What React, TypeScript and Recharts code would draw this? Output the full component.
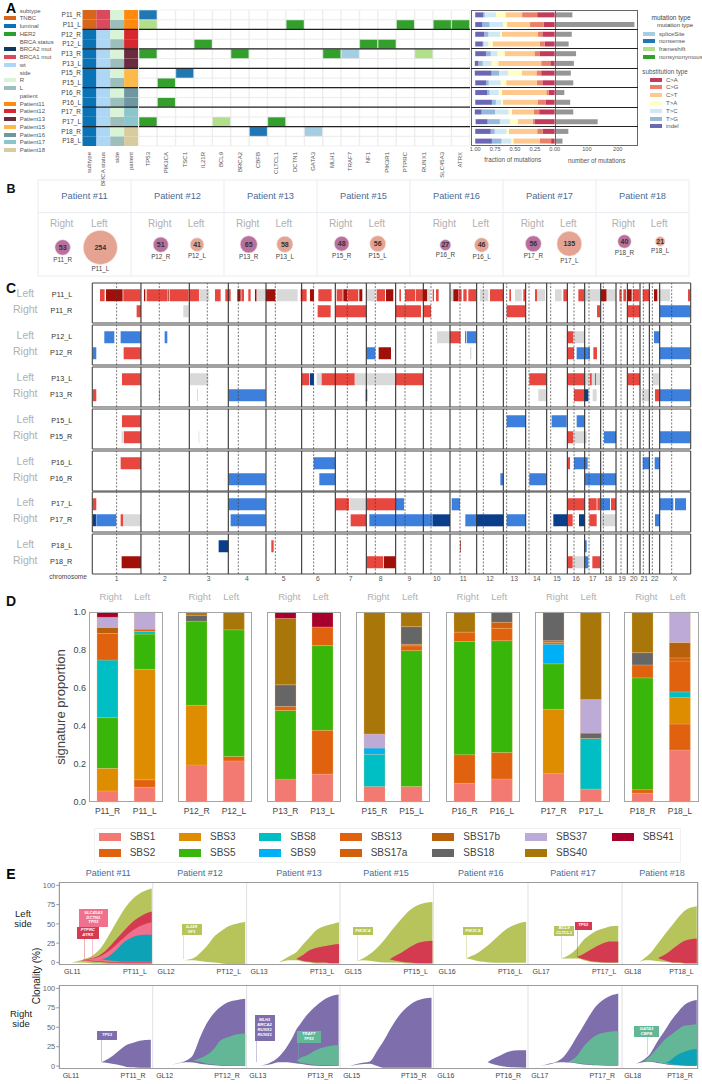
import React from 'react';
import {
  Area, AreaChart, Bar, BarChart, Cell, LabelList, ReferenceLine, Scatter, ScatterChart,
  XAxis, YAxis, ZAxis,
} from 'recharts';

const FONT = '"Liberation Sans", Arial, sans-serif';
const BLUE_TITLE = '#4c6b97';
const GRAY_TEXT = '#b0b0b0';

const samples = ['P11_R', 'P11_L', 'P12_R', 'P12_L', 'P13_R', 'P13_L', 'P15_R', 'P15_L', 'P16_R', 'P16_L', 'P17_R', 'P17_L', 'P18_R', 'P18_L'];
const patients = ['Patient #11', 'Patient #12', 'Patient #13', 'Patient #15', 'Patient #16', 'Patient #17', 'Patient #18'];

// ---- panel A ----
const genes = ['TP53', 'PIK3CA', 'TSC1', 'IL21R', 'BCL9', 'BRCA2', 'CBFB', 'CLTCL1', 'DCTN1', 'GATA3', 'MLH1', 'TRAF7', 'NF1', 'PIK3R1', 'PTPRC', 'RUNX1', 'SLC45A3', 'ATRX'];
const mutationCalls = [
  ['P11_R', 'TP53', 'nonsense'], ['P11_L', 'TP53', 'frameshift'], ['P11_L', 'DCTN1', 'nonsynonymous'], ['P11_L', 'PTPRC', 'nonsynonymous'],
  ['P11_L', 'SLC45A3', 'nonsynonymous'], ['P11_L', 'ATRX', 'nonsynonymous'], ['P12_L', 'IL21R', 'nonsynonymous'], ['P12_L', 'NF1', 'nonsynonymous'],
  ['P12_L', 'PIK3R1', 'nonsynonymous'], ['P13_R', 'TP53', 'nonsynonymous'], ['P13_R', 'BRCA2', 'nonsynonymous'], ['P13_R', 'MLH1', 'nonsynonymous'],
  ['P13_R', 'TRAF7', 'spliceSite'], ['P13_R', 'RUNX1', 'frameshift'], ['P15_R', 'TSC1', 'nonsense'], ['P15_L', 'PIK3CA', 'nonsynonymous'],
  ['P16_L', 'PIK3CA', 'nonsynonymous'], ['P17_L', 'TP53', 'nonsynonymous'], ['P17_L', 'BCL9', 'frameshift'], ['P17_L', 'CLTCL1', 'nonsynonymous'],
  ['P18_R', 'CBFB', 'nonsense'], ['P18_R', 'GATA3', 'spliceSite'],
];
const mutationColors: Record<string, string> = { spliceSite: '#a6cee3', nonsense: '#1f78b4', frameshift: '#b2df8a', nonsynonymous: '#33a02c' };

const annotationCols = ['subtype', 'BRCA status', 'side', 'patient'];
const subtypeByRow = ['TNBC', 'TNBC', 'luminal', 'luminal', 'luminal', 'luminal', 'luminal', 'luminal', 'luminal', 'luminal', 'luminal', 'luminal', 'luminal', 'luminal'];
const brcaByRow = ['BRCA1 mut', 'BRCA1 mut', 'wt', 'wt', 'wt', 'wt', 'wt', 'wt', 'wt', 'wt', 'wt', 'wt', 'wt', 'wt'];
const sideByRow = ['R', 'L', 'R', 'L', 'R', 'L', 'R', 'L', 'R', 'L', 'R', 'L', 'R', 'L'];
const patientByRow = ['Patient11', 'Patient11', 'Patient12', 'Patient12', 'Patient13', 'Patient13', 'Patient15', 'Patient15', 'Patient16', 'Patient16', 'Patient17', 'Patient17', 'Patient18', 'Patient18'];
const annotationColors: Record<string, string> = {
  TNBC: '#d8661a', luminal: '#0b72b5', HER2: '#2ca02c', 'BRCA2 mut': '#0e3a5e', 'BRCA1 mut': '#d84a5c', wt: '#aed6f5', R: '#d8f3d5', L: '#9dbfbb',
  Patient11: '#ff8a10', Patient12: '#d7282f', Patient13: '#6b2a3e', Patient15: '#fdba4b', Patient16: '#6e97a2', Patient17: '#8cc5cb', Patient18: '#d8cc9e',
};
const annotationLegend: [string, boolean][] = [
  ['subtype', true], ['TNBC', false], ['luminal', false], ['HER2', false], ['BRCA status', true], ['BRCA2 mut', false], ['BRCA1 mut', false], ['wt', false],
  ['side', true], ['R', false], ['L', false], ['patient', true], ['Patient11', false], ['Patient12', false], ['Patient13', false], ['Patient15', false],
  ['Patient16', false], ['Patient17', false], ['Patient18', false],
];
const annotationLegendY = [10.7, 18.3, 26, 33.7, 41.7, 49.3, 57, 65, 72.7, 80.3, 88, 96, 103.7, 111.3, 119, 127, 134.7, 142, 150];

const subTypes = ['C>A', 'C>G', 'C>T', 'T>A', 'T>C', 'T>G', 'indel'];
const subColors = ['#c23b5b', '#e8806a', '#fdc98f', '#ffffc0', '#cfe8f3', '#95b8dc', '#6a68b5'];
const fracCA = [0.22, 0.14, 0.155, 0.125, 0.185, 0.055, 0.17, 0.155, 0.075, 0.11, 0.195, 0.255, 0.15, 0.045];
const fracCG = [0.19, 0.17, 0.055, 0.065, 0.07, 0.115, 0.06, 0.07, 0.03, 0.105, 0.07, 0.02, 0.07, 0.145];
const fracCT = [0.21, 0.29, 0.455, 0.59, 0.375, 0.54, 0.185, 0.385, 0.56, 0.435, 0.275, 0.19, 0.355, 0.33];
const fracTA = [0.12, 0.05, 0.02, 0.055, 0.09, 0.085, 0.17, 0.07, 0.04, 0.025, 0.04, 0.1, 0.03, 0.025];
const fracTC = [0.14, 0.17, 0.15, 0.06, 0.085, 0.11, 0.115, 0.15, 0.115, 0.065, 0.17, 0.125, 0.15, 0.125];
const fracTG = [0.02, 0.09, 0.05, 0.01, 0.06, 0.055, 0.095, 0.03, 0.03, 0.05, 0.17, 0.155, 0.05, 0.12];
const fracIndel = [0.1, 0.09, 0.115, 0.095, 0.135, 0.045, 0.21, 0.14, 0.15, 0.21, 0.085, 0.15, 0.195, 0.21];
const fracColumns = [fracCA, fracCG, fracCT, fracTA, fracTC, fracTG, fracIndel];
const mutationCounts = [53, 254, 51, 41, 65, 58, 48, 56, 27, 46, 56, 135, 40, 21];

// ---- panel B ----
const bubbleOffset = [0.265, 0.67, 0.32, 0.71, 0.266, 0.654, 0.265, 0.653, 0.38, 0.77, 0.326, 0.713, 0.306, 0.69];
const bubbleLevel = [0.298, 0.298, 0.326, 0.326, 0.33, 0.33, 0.336, 0.336, 0.323, 0.323, 0.336, 0.336, 0.36, 0.36];

// ---- panel C ----
const chromLabels = ['1', '2', '3', '4', '5', '6', '7', '8', '9', '10', '11', '12', '13', '14', '15', '16', '17', '18', '19', '20', '21', '22', 'X'];
const chromTicks = [350, 495, 626, 741, 851, 954, 1052, 1142, 1228, 1310, 1390, 1470, 1543, 1610, 1671, 1728, 1778, 1825, 1866, 1901, 1933, 1964, 2025];
const chromEnds = [423, 568, 685, 798, 905, 1006, 1099, 1187, 1270, 1350, 1430, 1510, 1577, 1640, 1702, 1754, 1802, 1848, 1882, 1920, 1948, 1979];
const centromeres = [350, 478, 622, 715, 826, 941, 1042, 1126, 1215, 1293, 1380, 1450, 1520, 1587, 1652, 1722, 1767, 1810, 1863, 1900, 1930, 1957, 2015];
const cnColors: Record<string, string> = { R: '#e8473f', D: '#a01008', G: '#d9d9d9', B: '#3d7fdc', N: '#0a3d8a' };
type Seg = [number, number, string];

const cnP11L: Seg[] = [[300, 314, 'R'], [318, 368, 'D'], [370, 422, 'R'], [432, 436, 'D'], [440, 503, 'R'], [505, 508, 'D'], [510, 566, 'R'], [568, 597, 'R'], [598, 628, 'G'], [645, 662, 'R'], [676, 692, 'R'], [712, 722, 'D'], [724, 732, 'R'], [745, 752, 'R'], [765, 770, 'D'], [770, 798, 'G'], [798, 826, 'D'], [830, 893, 'G'], [902, 920, 'R'], [930, 942, 'D'], [955, 995, 'R'], [1010, 1028, 'R'], [1030, 1042, 'D'], [1043, 1075, 'R'], [1078, 1087, 'D'], [1100, 1125, 'G'], [1130, 1155, 'R'], [1158, 1180, 'D'], [1198, 1203, 'R'], [1215, 1245, 'R'], [1247, 1270, 'R'], [1270, 1282, 'D'], [1282, 1290, 'G'], [1298, 1302, 'R'], [1308, 1316, 'R'], [1350, 1360, 'G'], [1360, 1375, 'D'], [1375, 1385, 'R'], [1390, 1400, 'R'], [1405, 1430, 'R'], [1440, 1465, 'G'], [1470, 1510, 'R'], [1528, 1533, 'R'], [1545, 1565, 'G'], [1570, 1577, 'R'], [1605, 1612, 'R'], [1612, 1635, 'G'], [1665, 1685, 'G'], [1690, 1702, 'R'], [1735, 1752, 'R'], [1755, 1800, 'G'], [1802, 1820, 'D'], [1820, 1848, 'G'], [1858, 1865, 'R'], [1870, 1878, 'R'], [1882, 1895, 'D'], [1898, 1918, 'R'], [1928, 1948, 'R'], [1962, 1972, 'D'], [1975, 2010, 'G'], [2064, 2072, 'R']];
const cnP11R: Seg[] = [[410, 423, 'R'], [550, 566, 'G'], [953, 992, 'R'], [1007, 1099, 'R'], [1187, 1263, 'R'], [1270, 1293, 'R'], [1520, 1576, 'R'], [1791, 1800, 'R'], [1883, 1920, 'R'], [1980, 2072, 'B']];
const cnP12L: Seg[] = [[313, 343, 'B'], [362, 423, 'B'], [494, 502, 'B'], [1311, 1350, 'G'], [1350, 1382, 'R'], [1395, 1398, 'B'], [1400, 1429, 'B'], [1702, 1720, 'R'], [1720, 1753, 'G'], [1962, 1979, 'B']];
const cnP12R: Seg[] = [[277, 289, 'B'], [371, 423, 'R'], [1099, 1126, 'B'], [1136, 1173, 'D'], [1410, 1414, 'G'], [1702, 1722, 'R'], [1730, 1770, 'B'], [1780, 1791, 'R'], [1980, 2072, 'B']];
const cnP13L: Seg[] = [[366, 423, 'R'], [570, 625, 'G'], [905, 928, 'R'], [930, 942, 'N'], [950, 965, 'G'], [965, 1064, 'R'], [1065, 1185, 'G'], [1187, 1269, 'R'], [1588, 1640, 'R'], [1702, 1755, 'R'], [1755, 1800, 'G'], [1770, 1775, 'R'], [1785, 1788, 'R'], [1883, 1920, 'R'], [1958, 1978, 'G']];
const cnP13R: Seg[] = [[277, 289, 'R'], [477, 479, 'R'], [591, 594, 'G'], [686, 797, 'B'], [1097, 1102, 'B'], [1615, 1638, 'G'], [1722, 1753, 'R'], [1753, 1765, 'N'], [1778, 1790, 'G'], [1925, 1947, 'G'], [1965, 1979, 'R'], [1980, 2072, 'B']];
const cnP15L: Seg[] = [[366, 423, 'R'], [1520, 1577, 'B'], [1655, 1700, 'B'], [1730, 1754, 'B']];
const cnP15R: Seg[] = [[365, 371, 'G'], [372, 423, 'R'], [596, 598, 'G'], [1702, 1720, 'R'], [1720, 1760, 'G'], [1812, 1848, 'B'], [1980, 2072, 'B']];
const cnP16L: Seg[] = [[362, 423, 'R'], [941, 1006, 'B'], [1702, 1710, 'R'], [1722, 1763, 'B'], [1928, 1948, 'B'], [1964, 1979, 'B']];
const cnP16R: Seg[] = [[686, 797, 'B'], [958, 1005, 'B'], [1501, 1510, 'B'], [1588, 1640, 'B'], [1755, 1848, 'B']];
const cnP17L: Seg[] = [[277, 289, 'R'], [686, 797, 'B'], [1007, 1047, 'R'], [1048, 1099, 'G'], [1099, 1186, 'R'], [1187, 1212, 'B'], [1355, 1380, 'B'], [1702, 1754, 'R'], [1766, 1790, 'R'], [1792, 1800, 'R'], [1802, 1830, 'B'], [1833, 1848, 'R'], [1980, 2020, 'B'], [2025, 2058, 'B']];
const cnP17R: Seg[] = [[277, 288, 'N'], [289, 349, 'B'], [362, 370, 'R'], [372, 423, 'G'], [692, 797, 'B'], [1052, 1099, 'R'], [1108, 1298, 'B'], [1298, 1350, 'N'], [1396, 1428, 'B'], [1428, 1510, 'N'], [1520, 1577, 'B'], [1660, 1702, 'N'], [1702, 1718, 'R'], [1737, 1755, 'N'], [1768, 1790, 'R'], [1805, 1848, 'G'], [1965, 1979, 'B']];
const cnP18L: Seg[] = [[656, 685, 'N'], [814, 821, 'R'], [1380, 1382, 'D'], [1753, 1760, 'B']];
const cnP18R: Seg[] = [[365, 423, 'D'], [1099, 1150, 'R'], [1152, 1186, 'D'], [1702, 1718, 'R'], [1720, 1753, 'G'], [1753, 1765, 'B'], [1777, 1802, 'R']];

const cnGroups = [
  { left: 'P11_L', right: 'P11_R', segL: cnP11L, segR: cnP11R, top: 283.3 },
  { left: 'P12_L', right: 'P12_R', segL: cnP12L, segR: cnP12R, top: 325 },
  { left: 'P13_L', right: 'P13_R', segL: cnP13L, segR: cnP13R, top: 367.3 },
  { left: 'P15_L', right: 'P15_R', segL: cnP15L, segR: cnP15R, top: 409 },
  { left: 'P16_L', right: 'P16_R', segL: cnP16L, segR: cnP16R, top: 450.7 },
  { left: 'P17_L', right: 'P17_R', segL: cnP17L, segR: cnP17R, top: 492.3 },
  { left: 'P18_L', right: 'P18_R', segL: cnP18L, segR: cnP18R, top: 534.3 },
];

// ---- panel D ----
const sbsNames = ['SBS1', 'SBS2', 'SBS3', 'SBS5', 'SBS8', 'SBS9', 'SBS13', 'SBS17a', 'SBS17b', 'SBS18', 'SBS37', 'SBS40', 'SBS41'];
const sbsColors = ['#f27a72', '#e0610e', '#de8c00', '#39b60a', '#00bfc4', '#00b0f6', '#e0610e', '#d0600c', '#b9600c', '#666666', '#bdaad7', '#a9760a', '#a8002d'];
const sbs1 = [0.058, 0.077, 0.195, 0.216, 0.119, 0.147, 0.081, 0.081, 0.098, 0.121, 0.149, 0.068, 0.046, 0.274];
const sbs2 = [0, 0.04, 0, 0.023, 0, 0.23, 0, 0, 0.151, 0.139, 0, 0, 0.019, 0.137];
const sbs3 = [0.119, 0.581, 0.314, 0, 0, 0, 0, 0, 0, 0, 0.339, 0, 0, 0.139];
const sbs5 = [0.267, 0.186, 0.442, 0.667, 0.363, 0.446, 0, 0.716, 0.596, 0.589, 0.24, 0, 0.589, 0];
const sbs8 = [0.303, 0.014, 0, 0, 0, 0, 0.17, 0, 0, 0, 0, 0.267, 0, 0.03];
const sbs9 = [0, 0, 0, 0, 0, 0, 0.033, 0, 0, 0, 0.104, 0, 0, 0];
const sbs13 = [0.14, 0.012, 0, 0, 0.021, 0.098, 0, 0.025, 0.049, 0.065, 0.009, 0, 0.068, 0.163];
const sbs17a = [0, 0, 0, 0, 0, 0, 0, 0.008, 0, 0.032, 0.009, 0, 0, 0.016];
const sbs17b = [0.032, 0, 0, 0, 0, 0, 0, 0, 0, 0, 0, 0, 0, 0.081];
const sbs18 = [0, 0, 0.032, 0, 0.114, 0, 0, 0.093, 0, 0.054, 0.151, 0.028, 0.065, 0];
const sbs37 = [0.053, 0.09, 0, 0, 0, 0, 0.074, 0, 0, 0, 0, 0.177, 0, 0.161];
const sbs40 = [0, 0, 0.017, 0.094, 0.349, 0, 0.642, 0.077, 0.105, 0, 0, 0.46, 0.213, 0];
const sbs41 = [0.028, 0, 0, 0, 0.033, 0.079, 0, 0, 0, 0, 0, 0, 0, 0];
const sbsColumns = [sbs1, sbs2, sbs3, sbs5, sbs8, sbs9, sbs13, sbs17a, sbs17b, sbs18, sbs37, sbs40, sbs41];
const sigFrames = [[88.7, 74.3], [177.7, 74.6], [267.3, 74], [356.4, 74], [445.7, 74.6], [535, 74.7], [624.3, 74.7]];
const sbsLegendOrder = [
  ['SBS1', 'SBS2'], ['SBS3', 'SBS5'], ['SBS8', 'SBS9'], ['SBS13', 'SBS17a'], ['SBS17b', 'SBS18'], ['SBS37', 'SBS40'], ['SBS41'],
];
const sbsLegendX = [98.7, 179, 259.3, 339.7, 432.3, 525, 611.7];

// ---- panel E ----
const OLIVE = '#b7c45c';
const CRIMSON = '#d43a50';
const PINK = '#f1708e';
const TEAL = '#0da2b6';
const PURPLE = '#7e6eab';
const MINT = '#63b696';
const TAN = '#f3d8a8';
const _ = null;
type Layer = { color: string; lo: (number | null)[]; hi: (number | null)[] };
type Fish = { gl: string; pt: string; x: number[]; layers: Layer[] };

const fishP11L: Fish = {
  gl: 'GL11', pt: 'PT11_L', x: [13, 23, 33, 44, 52, 61, 70, 79, 90, 99], layers: [
    { color: TAN, lo: [_, _, _, _, -2, -3.2, -3.5, -3.5, -3.5, -3.5], hi: [_, _, _, _, -1, -1, -1, -1, -1, -1] },
    { color: OLIVE, lo: [0, 0, -1, -1.5, -2, -2.5, -2.5, -2.5, -2.5, -2.5], hi: [0, 3, 7, 18, 33, 52, 70, 83, 92, 96] },
    { color: CRIMSON, lo: [_, 3, 1.5, 0.5, 0, -0.5, -1, -1, -1, -1], hi: [_, 3, 5, 10, 18, 30, 42, 53, 62, 66] },
    { color: PINK, lo: [_, 3, 2.5, 1.5, 1, 0.5, 0, 0, 0, 0], hi: [_, 3, 4.5, 8, 14, 23, 33, 42, 49, 52] },
    { color: TEAL, lo: [_, _, _, 4, 3, 2, 1, 1, 1, 1], hi: [_, _, _, 4, 7, 16, 27, 33, 36, 36] },
  ],
};
const fishP12L: Fish = {
  gl: 'GL12', pt: 'PT12_L', x: [33, 43, 50, 58, 65, 72, 79, 88, 98.5], layers: [
    { color: OLIVE, lo: [3, 3, 2, 0.5, 0, -1, -2, -2, -2], hi: [3, 5.5, 12, 22, 33, 40, 46, 50, 52.5] },
  ],
};
const fishP13L: Fish = {
  gl: 'GL13', pt: 'PT13_L', x: [35, 46, 54, 61, 68, 75, 83, 92, 99], layers: [
    { color: TAN, lo: [_, _, _, _, -1, -2, -2, -2, -2], hi: [_, _, _, _, 0, 0, 0, 0, 0] },
    { color: OLIVE, lo: [0, 3, 3, 1, 0, -1, -1, -1.2, -1.2], hi: [0, 8, 14, 24, 33, 42, 47, 50, 52] },
    { color: CRIMSON, lo: [_, _, 4, 2, 1, 0, 0, -1, -1], hi: [_, _, 5, 10, 16, 19, 21, 23, 24] },
  ],
};
const fishP15L: Fish = {
  gl: 'GL15', pt: 'PT15_L', x: [9, 25, 39, 48, 53, 57, 66, 75, 85, 99], layers: [
    { color: TAN, lo: [_, _, _, _, _, _, -1, -2, -2.5, -2.5], hi: [_, _, _, _, _, _, 0, 0, 0, 0] },
    { color: OLIVE, lo: [0, 3, 1, 0, 0, 0, -0.5, -1, -1.5, -1.5], hi: [0, 5.5, 18, 30, 38, 44, 57, 68, 75, 78.5] },
    { color: CRIMSON, lo: [_, _, _, _, 4, 3, 1, 0, -1, -1], hi: [_, _, _, _, 4, 7, 13, 20, 26, 28] },
  ],
};
const fishP16L: Fish = {
  gl: 'GL16', pt: 'PT16_L', x: [34, 39, 46, 53, 60, 69, 78, 88, 98], layers: [
    { color: OLIVE, lo: [5, 4, 2, 1, 0, -0.5, -0.5, -0.5, -0.5], hi: [5, 8, 12, 18, 25, 35, 44, 50, 52.8] },
  ],
};
const fishP17L: Fish = {
  gl: 'GL17', pt: 'PT17_L', x: [35, 44, 52, 59, 66, 73, 80, 88, 96], layers: [
    { color: OLIVE, lo: [5, 5, 5, 3, 1, 0, 0, -0.5, -0.5], hi: [5, 10, 18, 29, 36, 41, 44, 47, 47.6] },
    { color: CRIMSON, lo: [_, _, 7, 4, 2, 1, 0, 0, 0], hi: [_, _, 7, 11, 16, 21, 25, 27, 27] },
  ],
};
const fishP18L: Fish = {
  gl: 'GL18', pt: 'PT18_L', x: [22, 30, 37, 48, 59, 67, 75, 85, 98], layers: [
    { color: TAN, lo: [_, _, _, _, _, _, -1, -2.5, -2.5], hi: [_, _, _, _, _, _, 0, 0, 0] },
    { color: OLIVE, lo: [0, 3, 3, 1.5, 0.5, 0, -0.5, -1.2, -1.2], hi: [0, 6, 12, 26, 40, 50, 60, 69, 73] },
    { color: CRIMSON, lo: [_, _, _, 5, 2, 0, 0, -1, -1], hi: [_, _, _, 6, 12, 18, 24, 29, 31] },
  ],
};
const fishP11R: Fish = {
  gl: 'GL11', pt: 'PT11_R', x: [45, 52, 58, 65, 72, 79, 86, 98], layers: [
    { color: PURPLE, lo: [5, 4, 2.6, 1, -1, -1.5, -2, -2], hi: [5, 9, 14, 21, 27, 30, 32.6, 34] },
  ],
};
const fishP12R: Fish = {
  gl: 'GL12', pt: 'PT12_R', x: [15, 25, 35, 43, 50, 57, 65, 72, 80, 90, 98.5], layers: [
    { color: PURPLE, lo: [0, 3, 5, 4.5, 3, 2, 1, 0.5, 0, 0, 0], hi: [0, 3.5, 7, 15, 36, 54, 68, 76, 82, 85, 86.5] },
    { color: MINT, lo: [_, _, _, 7, 5.5, 3.5, 2, 1, 0.5, 0.5, 0.5], hi: [_, _, _, 7, 10, 14, 22, 33, 37, 41, 42] },
  ],
};
const fishP13R: Fish = {
  gl: 'GL13', pt: 'PT13_R', x: [15, 25, 35, 43, 50, 54, 57, 65, 75, 85, 98.5], layers: [
    { color: PURPLE, lo: [0, 2, 5, 5, 4, 3.5, 3, 1.5, 0.5, 0, 0], hi: [0, 4, 12, 24, 38, 48, 53, 66, 78, 87, 92] },
    { color: MINT, lo: [_, _, _, _, _, 7, 5, 3, 1.5, 1, 0.5], hi: [_, _, _, _, _, 7, 10, 14, 21, 25, 27] },
  ],
};
const fishP15R: Fish = {
  gl: 'GL15', pt: 'PT15_R', x: [10, 20, 32, 40, 46, 55, 64, 73, 82, 90, 98], layers: [
    { color: PURPLE, lo: [0, 2, 3, 0, -2, -2, -2, -2, -2, -2, -2], hi: [0, 3.5, 6, 20, 31, 50, 66, 77, 84, 87, 88] },
  ],
};
const fishP16R: Fish = {
  gl: 'GL16', pt: 'PT16_R', x: [57, 64, 71, 78, 85, 98], layers: [
    { color: PURPLE, lo: [5, 2, 0, -1, -1.5, -2], hi: [5, 10, 14, 18, 20, 20.5] },
  ],
};
const fishP17R: Fish = {
  gl: 'GL17', pt: 'PT17_R', x: [13, 22, 31, 38, 43, 52, 59, 66, 73, 85, 96], layers: [
    { color: PURPLE, lo: [0, 2, 4.5, 5, 4.5, 3.5, 2, 1.5, 1, 0.5, 0.5], hi: [0, 3, 6, 12, 20, 38, 52, 66, 78, 89, 93.5] },
    { color: MINT, lo: [_, _, _, _, 5.5, 4, 3, 2, 1.5, 1, 1], hi: [_, _, _, _, 5.5, 13, 25, 34, 40, 44, 45] },
  ],
};
const fishP18R: Fish = {
  gl: 'GL18', pt: 'PT18_R', x: [17, 28, 37, 46, 57, 64, 72, 81, 90, 98], layers: [
    { color: PURPLE, lo: [3, 5, 5.5, 4, 2.5, 1.5, 1, 0.5, 0, 0], hi: [3, 8, 16, 31, 47, 58, 68, 78, 83, 85] },
    { color: MINT, lo: [_, 6, 6, 5, 3, 2, 1.5, 1, 1, 1], hi: [_, 6, 13, 23, 35, 40, 46, 52, 53, 54] },
    { color: TEAL, lo: [_, _, _, _, 4, 3, 1.5, 1.5, 1.5, 1.5], hi: [_, _, _, _, 4, 8, 14, 18, 21, 22] },
  ],
};
const fishTop = [fishP11L, fishP12L, fishP13L, fishP15L, fishP16L, fishP17L, fishP18L];
const fishBottom = [fishP11R, fishP12R, fishP13R, fishP15R, fishP16R, fishP17R, fishP18R];
const fishCellX = [59.3, 152.7, 246.3, 340.3, 433.7, 527.7, 621.7, 698];
const fishTitleX = [108.3, 200, 299, 386, 480.7, 573, 662];

// gene callouts of panel E: box left/top/width/height, stem x and stem end y
const fishTags: [string[], string, number, number, number, number, number, number][] = [
  [['SLC45A3', 'DCTN1', 'TP53'], PINK, 79, 909.3, 28.7, 17.4, 92.3, 960],
  [['PTPRC', 'ATRX'], CRIMSON, 76.7, 927.3, 22.3, 11.7, 83.5, 959],
  [['IL21R', 'NF1'], OLIVE, 181.7, 924.3, 20, 11, 183.3, 959],
  [['PIK3CA'], OLIVE, 353.3, 927.3, 19.4, 8, 357.3, 960],
  [['PIK3CA'], OLIVE, 463.3, 927.3, 19.4, 8, 465.7, 958],
  [['BCL9', 'CLTCL1'], OLIVE, 554.3, 925.7, 19.7, 10, 561, 958],
  [['TP53'], CRIMSON, 574.7, 921.7, 17, 8, 576.7, 957],
  [['TP53'], PURPLE, 97, 1031.3, 20, 8.4, 101, 1062],
  [['MLH1', 'BRCA2', 'RUNX1', 'RUNX1'], PURPLE, 254.7, 1014.7, 20, 26.6, 256.3, 1062],
  [['TRAF7', 'TP53'], MINT, 296.7, 1031.3, 24, 11.7, 297.7, 1058],
  [['GATA3', 'CBFB'], MINT, 634.3, 1026, 24.4, 11.3, 646.7, 1055],
];

// centred absolute text
function Txt({ x, y, size = 7, color = '#444', bold = false, rotate = 0, children }: any) {
  return (
    <div style={{
      position: 'absolute', left: x, top: y, transform: `translate(-50%,-50%) rotate(${rotate}deg)`, fontSize: size,
      color, fontWeight: bold ? 700 : 400, whiteSpace: 'nowrap', lineHeight: 1,
    }}>{children}</div>
  );
}

function Lft({ x, y, size = 6, color = '#555', children }: any) {
  return <div style={{ position: 'absolute', left: x, top: y, transform: 'translateY(-50%)', fontSize: size, color, whiteSpace: 'nowrap', lineHeight: 1 }}>{children}</div>;
}

function Box({ x, y, w, h, fill, border, opacity }: any) {
  return <div style={{ position: 'absolute', left: x, top: y, width: w, height: h, background: fill, border, opacity, boxSizing: 'border-box', pointerEvents: 'none' }} />;
}

function Pos({ x, y, children }: any) {
  return <div style={{ position: 'absolute', left: x, top: y }}>{children}</div>;
}

const rowTicks = samples.map((_s, i) => 13.5 - i);
const rowLabel = (v: number) => samples[Math.floor(13.99 - v)];
const rowDividers = [2, 4, 6, 8, 10, 12];
const M0 = { top: 0, right: 0, bottom: 0, left: 0 };

const columnTick = ({ x, y, payload }: any) => (
  <text transform={`rotate(-90 ${x} ${y + 4})`} x={x} y={y + 4} textAnchor="end" dominantBaseline="middle" fontSize={6} fill="#555">{payload.value}</text>
);

function HeatMap({ columns, cellColor, width, axisW, stroke }: any) {
  const rows = columns.map((name: string) => {
    const row: any = { name };
    samples.forEach((s) => { row[s] = 1; });
    return row;
  });
  return (
    <BarChart width={width + axisW} height={136 + 44} data={rows} margin={M0} barCategoryGap={0}>
      <XAxis dataKey="name" interval={0} height={44} tick={columnTick} tickLine={false} axisLine={false} tickSize={0} />
      <YAxis type="number" domain={[0, 14]} ticks={rowTicks} width={axisW} hide={axisW === 0} tickFormatter={rowLabel} interval={0} tick={{ fontSize: 6.5, fill: '#444' }} tickLine={false} axisLine={false} tickSize={0} tickMargin={1.5} />
      {[...samples].reverse().map((s) => (
        <Bar key={s} dataKey={s} stackId="a" isAnimationActive={false}>
          {columns.map((c: string) => <Cell key={c} fill={cellColor(s, c)} stroke={stroke} strokeWidth={0.6} />)}
        </Bar>
      ))}
      {rowDividers.map((y) => <ReferenceLine key={y} y={y} stroke="#222" strokeWidth={1.2} />)}
    </BarChart>
  );
}

function annotationColor(s: string, c: string) {
  const i = samples.indexOf(s);
  const lists: Record<string, string[]> = { subtype: subtypeByRow, 'BRCA status': brcaByRow, side: sideByRow, patient: patientByRow };
  return annotationColors[lists[c][i]];
}

function matrixColor(s: string, g: string) {
  const hit = mutationCalls.find((m) => m[0] === s && m[1] === g);
  return hit ? mutationColors[hit[2]] : '#ffffff';
}

function FractionChart() {
  const rows = samples.map((s, i) => {
    const row: any = { s };
    subTypes.forEach((t, k) => { row[t] = fracColumns[k][i]; });
    return row;
  });
  return (
    <BarChart layout="vertical" width={83.7} height={136 + 16} data={rows} margin={M0} barCategoryGap="24%">
      <XAxis type="number" reversed domain={[0, 1.053]} ticks={[0, 0.25, 0.5, 0.75, 1]} tickFormatter={(v) => v.toFixed(2)} height={16} interval={0} tick={{ fontSize: 5.6, fill: '#555' }} tickLine={false} axisLine={false} tickSize={0} tickMargin={1} />
      <YAxis type="category" dataKey="s" hide />
      {subTypes.map((t, k) => <Bar key={t} dataKey={t} stackId="a" fill={subColors[k]} isAnimationActive={false} />)}
    </BarChart>
  );
}

function CountChart() {
  const rows = samples.map((s, i) => ({ s, count: mutationCounts[i] }));
  return (
    <BarChart layout="vertical" width={82.4} height={136 + 16} data={rows} margin={M0} barCategoryGap="24%">
      <XAxis type="number" domain={[0, 267]} ticks={[100, 200]} height={16} interval={0} tick={{ fontSize: 5.6, fill: '#555' }} tickLine={false} axisLine={false} tickSize={0} tickMargin={1} />
      <YAxis type="category" dataKey="s" hide />
      <Bar dataKey="count" fill="#969696" isAnimationActive={false} />
    </BarChart>
  );
}

function BubbleTable() {
  const points = samples.map((s, i) => ({
    name: s, count: mutationCounts[i], x: Math.floor(i / 2) + bubbleOffset[i], y: bubbleLevel[i], side: i % 2,
  }));
  return (
    <ScatterChart width={651} height={96} margin={M0}>
      <XAxis type="number" dataKey="x" domain={[0, 7]} hide />
      <YAxis type="number" dataKey="y" domain={[0, 1]} hide />
      <ZAxis type="number" dataKey="count" domain={[0, 254]} range={[0, 908]} />
      {[0, 1, 2, 3, 4, 5, 6, 7].map((x) => <ReferenceLine key={x} x={x} stroke="#e9ecf0" />)}
      {[0, 0.66, 1].map((y) => <ReferenceLine key={y} y={y} stroke="#e9ecf0" />)}
      <Scatter data={points} isAnimationActive={false} stroke="#f3e3e3" strokeWidth={0.6}>
        {points.map((p) => <Cell key={p.name} fill={p.side === 0 ? '#b9709f' : '#e5a391'} />)}
        <LabelList dataKey="count" position="center" style={{ fontSize: 7, fontWeight: 700, fill: '#333' }} />
        <LabelList dataKey="name" position="bottom" offset={2} style={{ fontSize: 6.3, fill: '#444' }} />
      </Scatter>
    </ScatterChart>
  );
}

function CopyNumberRow({ group, last }: any) {
  const rows = [
    ...group.segL.map((g: Seg) => ({ row: 1, range: [g[0], g[1]], state: g[2] })),
    ...group.segR.map((g: Seg) => ({ row: 0, range: [g[0], g[1]], state: g[2] })),
  ];
  const labelTick = ({ x, y, payload }: any) => (
    <g>
      <text x={x - 59} y={y - 1} textAnchor="middle" dominantBaseline="middle" fontSize={10.5} fill={GRAY_TEXT}>{payload.value === 1 ? 'Left' : 'Right'}</text>
      <text x={x - 12} y={y} textAnchor="end" dominantBaseline="middle" fontSize={7.3} fill="#333">{payload.value === 1 ? group.left : group.right}</text>
    </g>
  );
  return (
    <BarChart layout="vertical" width={690.7} height={last ? 56 : 40} data={rows} margin={M0}>
      <XAxis type="number" domain={[277, 2072]} allowDataOverflow ticks={chromTicks} interval={0} hide={!last} height={16}
        tickFormatter={(v) => chromLabels[chromTicks.indexOf(v)]} tick={{ fontSize: 6.8, fill: '#555' }} tickLine={false} axisLine={false} tickSize={0} tickMargin={2} />
      <YAxis type="number" dataKey="row" reversed domain={[-0.73, 1.77]} ticks={[0, 1]} interval={0} width={92.3} tick={labelTick} tickLine={false} axisLine={false} />
      <Bar dataKey="range" barSize={12} isAnimationActive={false}>
        {rows.map((r: any, i: number) => <Cell key={i} fill={cnColors[r.state]} />)}
      </Bar>
      {centromeres.map((x) => <ReferenceLine key={x} x={x} stroke="#444" strokeWidth={0.7} strokeDasharray="2 1.5" />)}
      {chromEnds.map((x) => <ReferenceLine key={x} x={x} stroke="#333" strokeWidth={1.1} />)}
      <ReferenceLine x={277} stroke="#444" strokeWidth={1.1} />
      <ReferenceLine x={2072} stroke="#444" strokeWidth={1.1} />
      <ReferenceLine y={1.77} stroke="#444" strokeWidth={1.1} />
      <ReferenceLine y={-0.73} stroke="#444" strokeWidth={1.1} />
    </BarChart>
  );
}

function SignatureChart({ index, frame }: any) {
  const rows = [index * 2, index * 2 + 1].map((i) => {
    const row: any = { s: samples[i] };
    sbsNames.forEach((n, k) => { row[n] = sbsColumns[k][i]; });
    return row;
  });
  const axisW = index === 0 ? 30 : 0;
  return (
    <BarChart width={frame[1] + axisW} height={190 + 20} data={rows} margin={M0}>
      <XAxis dataKey="s" height={20} interval={0} tick={{ fontSize: 8.5, fill: '#444' }} tickLine={false} axisLine={false} tickSize={0} tickMargin={6} />
      <YAxis type="number" domain={[0, 1]} ticks={[0, 0.2, 0.4, 0.6, 0.8, 1]} tickFormatter={(v) => v.toFixed(1)} hide={index !== 0} width={axisW || 1} interval={0}
        tick={{ fontSize: 9, fill: '#444' }} tickLine={false} axisLine={false} tickSize={0} tickMargin={3} />
      {sbsNames.map((n, k) => <Bar key={n} dataKey={n} stackId="a" fill={sbsColors[k]} barSize={21} isAnimationActive={false} stroke="#f4c07a" strokeWidth={0.3} />)}
    </BarChart>
  );
}

function FishCell({ fish, width, axis, ticks, height }: any) {
  const rows = fish.x.map((x: number, i: number) => {
    const row: any = { x };
    fish.layers.forEach((l: Layer, k: number) => {
      row['l' + k] = l.hi[i] === null ? null : [l.lo[i], l.hi[i]];
    });
    return row;
  });
  return (
    <AreaChart width={width + (axis ? 39.3 : 0)} height={height + 14} data={rows} margin={M0}>
      <XAxis type="number" dataKey="x" domain={[0, 100]} ticks={ticks} interval={0} height={14} tickLine={false} axisLine={false} tickSize={0} tickMargin={4}
        tickFormatter={(v) => (v === ticks[0] ? fish.gl : fish.pt)} tick={{ fontSize: 7, fill: '#444' }} />
      <YAxis type="number" domain={[-3.7, 104.3]} allowDataOverflow ticks={[0, 25, 50, 75, 100]} interval={0} hide={!axis} width={axis ? 39.3 : 1}
        tick={{ fontSize: 7.5, fill: '#666' }} tickSize={3} tickMargin={1} stroke="#999" />
      {fish.layers.map((l: Layer, k: number) => (
        <Area key={k} dataKey={'l' + k} type="monotone" stroke="none" fill={l.color} fillOpacity={1} isAnimationActive={false} />
      ))}
      <ReferenceLine x={100} stroke="#dfe0e4" strokeWidth={1} />
    </AreaChart>
  );
}

export default function App() {
  return (
    <div style={{ position: 'absolute', left: 0, top: 0, width: 702, height: 1084, overflow: 'hidden', background: '#fff', fontFamily: FONT }}>
      <style>{'.recharts-surface{overflow:visible}'}</style>
      {/* A */}
      <Txt x={11} y={7.5} size={14} bold color="#000">A</Txt>
      {annotationLegend.map(([name, head], i) => (
        <React.Fragment key={name}>
          {!head && <Box x={4.3} y={annotationLegendY[i] - 2} w={11.7} h={4} fill={annotationColors[name]} />}
          <Lft x={19.7} y={annotationLegendY[i]}>{name}</Lft>
        </React.Fragment>
      ))}
      <Pos x={0} y={10}><HeatMap columns={annotationCols} cellColor={annotationColor} width={55.5} axisW={82.5} /></Pos>
      <Pos x={139} y={10}><HeatMap columns={genes} cellColor={matrixColor} width={331} axisW={0} stroke="#e6e6e6" /></Pos>
      <Pos x={471.3} y={10}><FractionChart /></Pos>
      <Pos x={555.6} y={10}><CountChart /></Pos>
      <Box x={471.3} y={10} w={84.3} h={136} border="1px solid #666" />
      <Box x={555} y={10} w={83} h={136} border="1px solid #666" />
      {rowDividers.map((r) => <Box key={r} x={471.3} y={10 + (14 - r) * 9.71 - 0.6} w={166.7} h={1.2} fill="#222" />)}
      <Txt x={512.7} y={160} size={6.3} color="#555">fraction of mutations</Txt>
      <Txt x={596.7} y={160.5} size={6.3} color="#555">number of mutations</Txt>
      <Txt x={671} y={17.7} size={6.5} color="#444">mutation type</Txt>
      <Txt x={675} y={25} size={6} color="#444">mutation type</Txt>
      {Object.keys(mutationColors).map((m, i) => (
        <React.Fragment key={m}>
          <Box x={643.3} y={[33.5, 41, 49, 56.7][i] - 2} w={11.7} h={4} fill={mutationColors[m]} />
          <Lft x={659} y={[33.5, 41, 49, 56.7][i]}>{m}</Lft>
        </React.Fragment>
      ))}
      <Lft x={642.3} y={71.7} size={6.3}>substitution type</Lft>
      {subTypes.map((t, i) => (
        <React.Fragment key={t}>
          <Box x={650} y={[79.7, 87, 95, 103, 111, 118.7, 126][i] - 2} w={12} h={4} fill={subColors[i]} />
          <Lft x={666} y={[79.7, 87, 95, 103, 111, 118.7, 126][i]}>{t}</Lft>
        </React.Fragment>
      ))}

      {/* B */}
      <Txt x={11} y={189} size={12.5} bold color="#111">B</Txt>
      <Pos x={38} y={180}><BubbleTable /></Pos>
      {patients.map((p, i) => <Txt key={p} x={38 + 93 * (i + 0.5)} y={196.7} size={9.3} color={BLUE_TITLE}>{p}</Txt>)}
      {bubbleOffset.map((o, i) => (
        <Txt key={i} x={38 + 93 * (Math.floor(i / 2) + o) - 1} y={224} size={10} color={GRAY_TEXT}>{i % 2 === 0 ? 'Right' : 'Left'}</Txt>
      ))}

      {/* C */}
      <Txt x={11} y={288} size={14} bold color="#111">C</Txt>
      {cnGroups.map((g, i) => <Pos key={g.left} x={0} y={g.top}><CopyNumberRow group={g} last={i === cnGroups.length - 1} /></Pos>)}
      <Box x={92} y={406.8} w={599} h={2.4} fill="#a8a8a8" />
      <Txt x={68} y={577} size={6.5} color="#444">chromosome</Txt>

      {/* D */}
      <Txt x={11} y={601} size={14} bold color="#111">D</Txt>
      {sigFrames.map((f, i) => (
        <React.Fragment key={i}>
          <Pos x={f[0] - (i === 0 ? 30 : 0)} y={612}><SignatureChart index={i} frame={f} /></Pos>
          <Box x={f[0]} y={612} w={f[1]} h={190} border="1px solid #a5a5a5" />
          <Txt x={f[0] + 22} y={597} size={9.5} color={GRAY_TEXT}>Right</Txt>
          <Txt x={f[0] + 53.5} y={597} size={9.5} color={GRAY_TEXT}>Left</Txt>
        </React.Fragment>
      ))}
      <Txt x={60} y={707} size={13} rotate={-90} color="#444">signature proportion</Txt>
      <Box x={94} y={828} w={587} h={35} border="1px solid #f1f1f1" />
      {sbsLegendOrder.map((col, c) => col.map((n, r) => (
        <React.Fragment key={n}>
          <Box x={sbsLegendX[c]} y={[833.3, 848.7][r]} w={22} h={8} fill={sbsColors[sbsNames.indexOf(n)]} />
          <Lft x={sbsLegendX[c] + 31} y={[837.3, 852.7][r]} size={10} color="#444">{n}</Lft>
        </React.Fragment>
      )))}

      {/* E */}
      <Txt x={11} y={874} size={14} bold color="#000">E</Txt>
      {patients.map((p, i) => <Txt key={p} x={fishTitleX[i]} y={873.3} size={9} color={BLUE_TITLE}>{p}</Txt>)}
      {fishTop.map((f, i) => (
        <Pos key={f.pt} x={fishCellX[i] - (i === 0 ? 39.3 : 0)} y={881.7}>
          <FishCell fish={f} width={fishCellX[i + 1] - fishCellX[i]} axis={i === 0} ticks={i === 6 ? [14, 78] : [14, 81]} height={83.3} />
        </Pos>
      ))}
      {fishBottom.map((f, i) => (
        <Pos key={f.pt} x={fishCellX[i] - (i === 0 ? 39.3 : 0)} y={985}>
          <FishCell fish={f} width={fishCellX[i + 1] - fishCellX[i]} axis={i === 0} ticks={i === 6 ? [14, 76] : [12.5, 79]} height={84} />
        </Pos>
      ))}
      <Box x={59.3} y={881.7} w={638.7} h={83.3} border="1px solid #9c9c9c" />
      <Box x={59.3} y={985} w={638.7} h={84} border="1px solid #9c9c9c" />
      {fishTags.map(([lines, color, x, y, w, h, stemX, stemEnd], i) => (
        <React.Fragment key={i}>
          <Box x={stemX} y={y + h} w={1} h={stemEnd - y - h} fill={color} opacity={0.4} />
          <div style={{
            position: 'absolute', left: x, top: y, width: w, height: h, background: color, color: '#fff', fontSize: 4.2, fontStyle: 'italic', fontWeight: 700,
            display: 'flex', flexDirection: 'column', alignItems: 'center', justifyContent: 'center', lineHeight: 1.15,
          }}>
            {lines.map((t, k) => <span key={k}>{t}</span>)}
          </div>
        </React.Fragment>
      ))}
      <Txt x={23} y={913.7} size={9.5} color="#222">Left</Txt>
      <Txt x={23} y={923.7} size={9.5} color="#222">side</Txt>
      <Txt x={21} y={1014} size={9.5} color="#222">Right</Txt>
      <Txt x={21} y={1024} size={9.5} color="#222">side</Txt>
      <Txt x={36.7} y={975.7} size={10} rotate={-90} color="#222">Clonality (%)</Txt>
    </div>
  );
}
